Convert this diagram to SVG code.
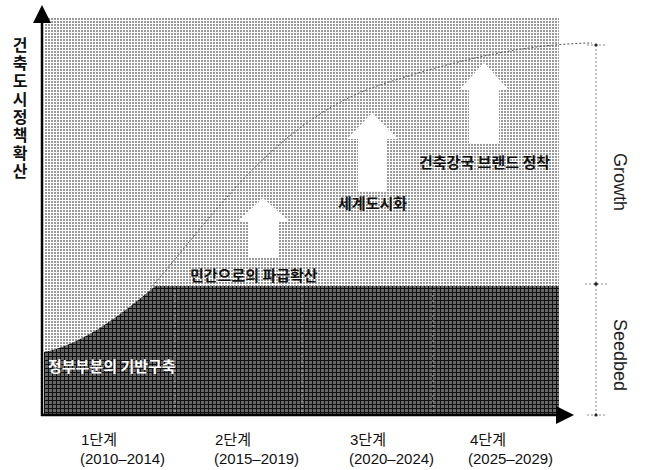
<svg xmlns="http://www.w3.org/2000/svg" width="645" height="470" viewBox="0 0 645 470">
<defs>
<pattern id="lightDots" width="3" height="3" patternUnits="userSpaceOnUse">
<rect width="3" height="3" fill="#ffffff"/>
<rect x="0" y="0" width="2" height="2" fill="#9a9a9a"/>
</pattern>
<pattern id="darkGrid" width="4" height="4" patternUnits="userSpaceOnUse">
<rect width="4" height="4" fill="#666666"/>
<rect x="0" y="0" width="4" height="1" fill="#111111"/>
<rect x="0" y="0" width="1" height="4" fill="#111111"/>
</pattern>
</defs>
<style>
.kr{font-family:"Noto Sans CJK KR","Noto Sans",sans-serif;font-size:15px;font-weight:700;fill:#111}
.krw{font-family:"Noto Sans CJK KR","Noto Sans",sans-serif;font-size:15px;font-weight:700;fill:#ffffff}
.stage{font-family:"Liberation Sans","Noto Sans CJK KR",sans-serif;font-size:15px;fill:#111}
.side{font-family:"Liberation Sans","Noto Sans",sans-serif;font-size:18px;fill:#222}
.ylab{font-family:"Noto Sans CJK KR",sans-serif;font-size:16px;font-weight:700;fill:#111;writing-mode:vertical-rl;letter-spacing:2px}
.up{fill:#ffffff}
.scale{stroke:#8a8a8a;stroke-width:1;stroke-dasharray:2 2;fill:none}
.axis{stroke:#000;stroke-width:2.5;fill:none}
.stageline{stroke:#d8d8d8;stroke-width:1;stroke-dasharray:2 3;opacity:0.7}
</style>

<g id="background">
<rect x="44" y="18" width="515" height="397" fill="url(#lightDots)"/>
<path d="M44,352 C80,345 118,318 155,286 L559,286 L559,414 L44,414 Z" fill="url(#darkGrid)"/>
<line class="stageline" x1="175" y1="290" x2="175" y2="412"/>
<line class="stageline" x1="302" y1="290" x2="302" y2="412"/>
<line class="stageline" x1="433" y1="290" x2="433" y2="412"/>
<path d="M150,289 C210,220 275,120 380,85 C450,62 520,44 592,43" fill="none" stroke="#555" stroke-width="1" stroke-dasharray="2 2"/>
</g>

<g id="arrow-1"><polygon class="up" points="263,198 290,222 278,222 278,257 248,257 248,222 237,222"/></g>
<g id="arrow-2"><polygon class="up" points="372,113 398,139 387,139 387,191 358,191 358,139 347,139"/></g>
<g id="arrow-3"><polygon class="up" points="484,63 509,90 499,90 499,143 469,143 469,90 459,90"/></g>

<g id="label-seedbed-stage"><text class="krw" x="48" y="372">정부부분의 기반구축</text></g>
<g id="label-private"><text class="kr" x="190" y="281">민간으로의 파급확산</text></g>
<g id="label-world"><text class="kr" x="338" y="209">세계도시화</text></g>
<g id="label-brand"><text class="kr" x="419" y="168">건축강국 브랜드 정착</text></g>

<g id="connectors">
<line class="axis" x1="42" y1="20" x2="42" y2="416"/>
<polygon points="42,5 33,23 51,23" fill="#000"/>
<line class="axis" x1="41" y1="415" x2="558" y2="415"/>
<polygon points="574,415 556,406 556,424" fill="#000"/>
<line class="scale" x1="596" y1="45" x2="596" y2="415"/>
<line class="scale" x1="587" y1="45" x2="606" y2="45"/>
<line class="scale" x1="585" y1="284" x2="608" y2="284"/>
<line class="scale" x1="587" y1="415" x2="606" y2="415"/>
<circle cx="596" cy="45" r="1.6" fill="#222"/>
<circle cx="596" cy="284" r="1.8" fill="#222"/>
<circle cx="596" cy="415" r="1.6" fill="#222"/>
</g>

<g id="y-axis-label">
<text class="ylab" x="20" y="37">건축도시정책확산</text>
</g>

<g id="growth"><text class="side" transform="translate(614,182) rotate(90)" text-anchor="middle">Growth</text></g>
<g id="seedbed"><text class="side" transform="translate(614,355) rotate(90)" text-anchor="middle">Seedbed</text></g>

<g id="stage-1"><text class="stage" x="81" y="445">1단계</text><text class="stage" x="80" y="464">(2010–2014)</text></g>
<g id="stage-2"><text class="stage" x="215" y="445">2단계</text><text class="stage" x="214" y="464">(2015–2019)</text></g>
<g id="stage-3"><text class="stage" x="350" y="445">3단계</text><text class="stage" x="349" y="464">(2020–2024)</text></g>
<g id="stage-4"><text class="stage" x="470" y="445">4단계</text><text class="stage" x="468" y="464">(2025–2029)</text></g>
</svg>
